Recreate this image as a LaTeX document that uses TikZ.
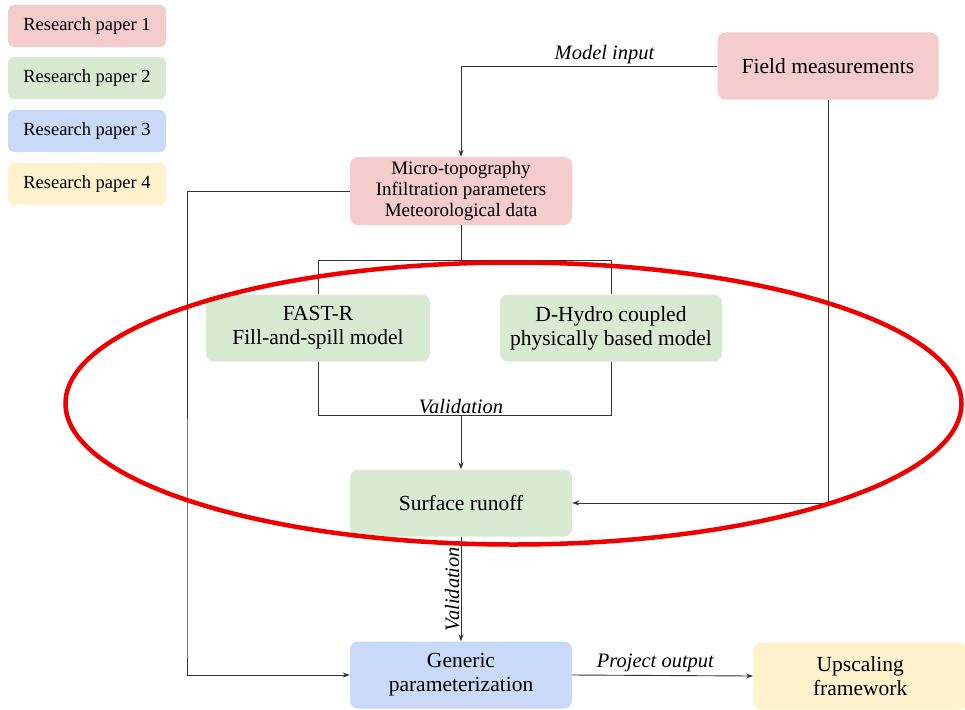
\documentclass[tikz,border=0pt]{standalone}
\usepackage{fontspec}
\setmainfont{Liberation Serif}
\usetikzlibrary{arrows.meta}
\definecolor{rp1}{HTML}{F4CCCC}
\definecolor{rp2}{HTML}{D9EAD3}
\definecolor{rp3}{HTML}{C9DAF8}
\definecolor{rp4}{HTML}{FFF2CC}
\definecolor{ringred}{HTML}{EE0000}
\begin{document}
\begin{tikzpicture}[x=1pt,y=-1pt,
  legbox/.style={rounded corners=6pt, minimum width=158pt, minimum height=42pt, inner sep=0pt, font=\fontsize{18.5}{21}\selectfont},
  box/.style={rounded corners=8pt, minimum width=222pt, minimum height=67pt, inner sep=0pt, align=center, font=\fontsize{21.5}{24}\selectfont},
  lbl/.style={font=\fontsize{20.5}{23}\selectfont\itshape, inner sep=1pt},
  conn/.style={draw=black!80, line width=0.9pt},
  arr/.style={conn, -{Stealth[length=7pt,width=5pt]}}]
\useasboundingbox (0,0) rectangle (965,709);
% legend
\node[legbox, fill=rp1] (l1) at (87,26) {Research paper 1};
\node[legbox, fill=rp2] (l2) at (87,78) {Research paper 2};
\node[legbox, fill=rp3] (l3) at (87,131) {Research paper 3};
\node[legbox, fill=rp4] (l4) at (87,184) {Research paper 4};
% main nodes
\node[box, fill=rp1, minimum width=221pt] (field) at (828,66) {Field measurements};
\node[box, fill=rp1, minimum height=68pt, font=\fontsize{19}{21}\selectfont] (micro) at (461,191) {Micro-topography\\Infiltration parameters\\Meteorological data};
\node[box, fill=rp2, minimum width=224pt] (fast) at (318,328) {FAST-R\\Fill-and-spill model};
\node[box, fill=rp2] (dhydro) at (611,328) {D-Hydro coupled\\physically based model};
\node[box, fill=rp2] (surf) at (461,503) {Surface runoff};
\node[box, fill=rp3] (gen) at (461,675) {Generic\\parameterization};
\node[box, fill=rp4, minimum width=214pt, anchor=west] (up) at (753,676) {Upscaling\\framework};
% coordinates
\coordinate (split) at (461,260);
\coordinate (join) at (461,415);
% connectors
\draw[arr] (field.west) -| node[lbl, pos=0.22, above, yshift=1pt] {Model input} (micro.north);
\draw[arr] (field.south) |- (surf.east);
\draw[arr] (micro.west) -| (187,640) |- (gen.west);
\draw[conn] (micro.south) -- (split);
\draw[conn] (split) -| (fast.north);
\draw[conn] (split) -| (dhydro.north);
\draw[conn] (fast.south) |- (join);
\draw[conn] (dhydro.south) |- (join);
\node[lbl, above] at (join) {Validation};
\draw[arr] (join) -- (surf.north);
\draw[arr] (surf.south) -- node[lbl, rotate=90, above] {Validation} (gen.north);
\draw[arr] (gen.east) -- node[lbl, above, pos=0.46, yshift=2pt] {Project output} (up.west);
% red ring
\draw[ringred, line width=4.5pt] (513.5,403.5) ellipse [x radius=448pt, y radius=141pt];
\end{tikzpicture}
\end{document}
